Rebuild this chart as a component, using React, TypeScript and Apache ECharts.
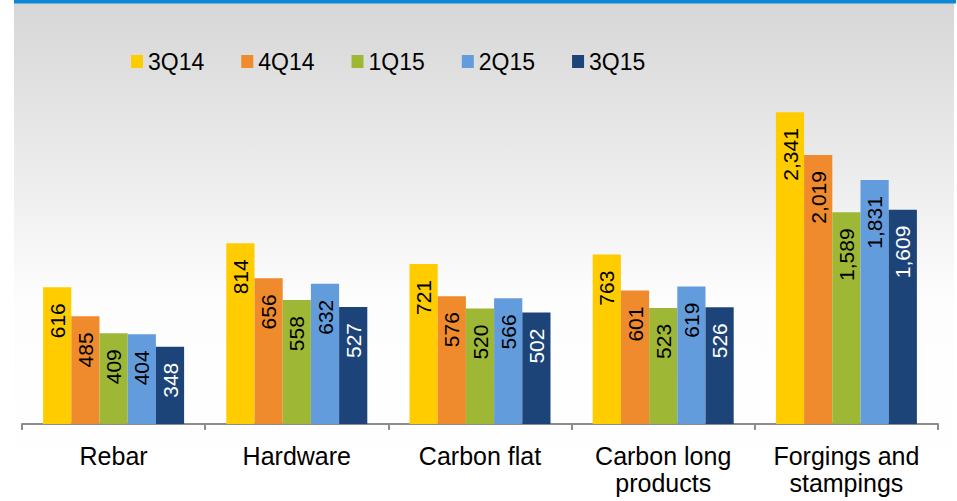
import React, { useEffect, useRef } from "react";
import * as echarts from "echarts";

const categories = ["Rebar", "Hardware", "Carbon flat", "Carbon long\nproducts", "Forgings and\nstampings"];
const seriesNames = ["3Q14", "4Q14", "1Q15", "2Q15", "3Q15"];
const q3_14 = [616, 814, 721, 763, 2341];
const q4_14 = [485, 656, 576, 601, 2019];
const q1_15 = [409, 558, 520, 523, 1589];
const q2_15 = [404, 632, 566, 619, 1831];
const q3_15 = [348, 527, 502, 526, 1609];
// The reference draws the last category on a compressed scale
const categoryScale = [1, 1, 1, 1, 0.6];
const colors = ["#FFCC00", "#EF8A2D", "#9EB836", "#629CDC", "#1D4478"];
const labelColors = ["#000000", "#000000", "#000000", "#000000", "#ffffff"];

const allSeries = [q3_14, q4_14, q1_15, q2_15, q3_15];
const FONT = "'Liberation Sans', Arial, sans-serif";

export default function App() {
  const ref = useRef<HTMLDivElement>(null);
  useEffect(() => {
    if (!ref.current) return;
    const chart = echarts.init(ref.current, undefined, { renderer: "svg" });
    chart.setOption({
      animation: false,
      textStyle: { fontFamily: FONT },
      graphic: [
        {
          type: "rect",
          z: -100,
          silent: true,
          shape: { x: 14, y: 0, width: 940, height: 501 },
          style: {
            fill: new echarts.graphic.LinearGradient(0, 0, 0, 1, [
              { offset: 0, color: "#d6d6d6" },
              { offset: 0.6, color: "#fdfdfd" },
              { offset: 1, color: "#ffffff" },
            ]),
          },
        },
        {
          type: "rect",
          z: -99,
          silent: true,
          shape: { x: 14, y: 0, width: 942, height: 3.5 },
          style: { fill: "#0A88D6" },
        },
      ],
      legend: {
        data: seriesNames,
        left: 126,
        top: 45,
        itemWidth: 12,
        itemHeight: 13,
        itemGap: 37,
        icon: "rect",
        textStyle: { fontSize: 23, color: "#000", fontFamily: FONT },
      },
      grid: { left: 22, right: 19, top: 91, bottom: 77 },
      xAxis: {
        type: "category",
        data: categories,
        axisLine: { lineStyle: { color: "#8c8c8c", width: 2 } },
        axisTick: { show: true, length: 6, lineStyle: { color: "#8c8c8c", width: 2 } },
        axisLabel: {
          fontSize: 25,
          lineHeight: 27,
          color: "#000",
          margin: 18,
          fontFamily: FONT,
          interval: 0,
        },
      },
      yAxis: { type: "value", show: false, min: 0, max: 1500, splitLine: { show: false } },
      series: allSeries.map((vals, si) => ({
        name: seriesNames[si],
        type: "bar",
        barWidth: 28.2,
        barGap: "0%",
        itemStyle: { color: colors[si] },
        label: {
          show: true,
          position: "insideTop",
          rotate: 90,
          align: "right",
          verticalAlign: "middle",
          distance: 16,
          fontSize: 21,
          color: labelColors[si],
          fontFamily: FONT,
          formatter: (p: any) => Number(p.data.actual).toLocaleString("en-US"),
        },
        data: vals.map((v, ci) => ({ value: v * categoryScale[ci], actual: v })),
      })),
    });
    return () => chart.dispose();
  }, []);
  return (
    <div
      ref={ref}
      style={{ position: "fixed", left: 0, top: 0, width: 957, height: 501, background: "#fff" }}
    />
  );
}
